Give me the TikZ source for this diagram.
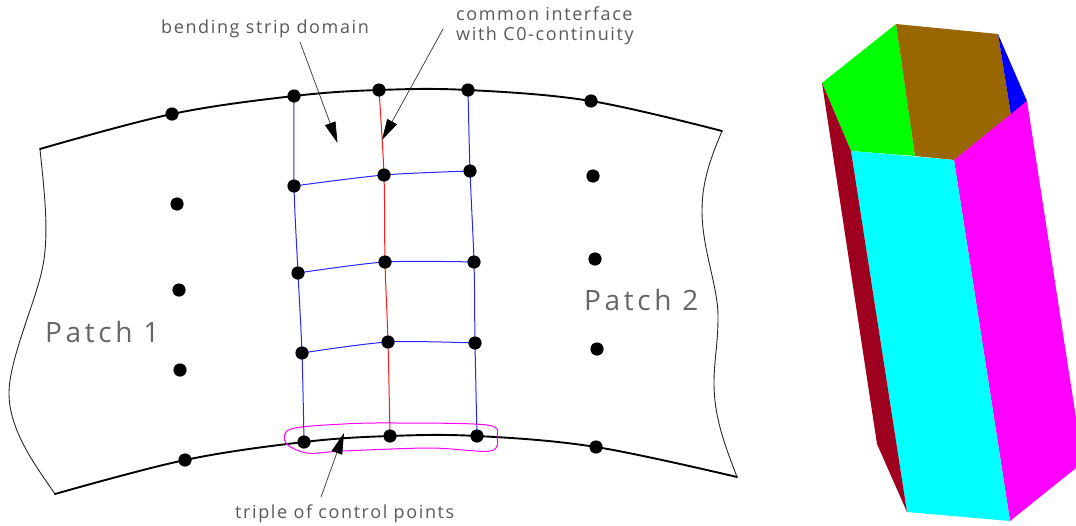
\documentclass[tikz,border=0pt]{standalone}
\usepackage{fontspec}
\setmainfont[LetterSpace=9]{Open Sans}
\usetikzlibrary{arrows.meta}
\definecolor{darkred}{HTML}{A00020}
\definecolor{ochre}{HTML}{996600}
\definecolor{puremagenta}{RGB}{255,0,255}
\definecolor{purecyan}{RGB}{0,255,255}
\definecolor{puregreen}{RGB}{0,255,0}
\definecolor{pureblue}{RGB}{0,0,255}
\tikzset{
	edgeline/.style={black,line width=1.9pt},
	sideline/.style={black!85,line width=0.9pt},
	stripline/.style={pureblue!85!white,line width=1pt},
	midline/.style={red!90!white,line width=1pt},
	callout/.style={black!80,line width=0.7pt,-{Triangle[length=21pt,width=11pt,black]}},
	smalltext/.style={black!65,font=\fontsize{18}{20}\selectfont,inner sep=0pt,anchor=base west},
	bigtext/.style={black!60,font=\fontsize{28}{30}\selectfont\addfontfeature{LetterSpace=13},inner sep=0pt,anchor=base west}
}
\begin{document}
\begin{tikzpicture}[x=1pt,y=-1pt,line join=round,line cap=round]
	\useasboundingbox (0,0) rectangle (1076,525);
	\path
	(40,149) coordinate (TL)
	(722,131) coordinate (TR)
	(55,494) coordinate (BL)
	(737,477) coordinate (BR)
	(172,114) coordinate (A1)
	(294,96) coordinate (A2)
	(379,90) coordinate (A3)
	(468,90) coordinate (A4)
	(591,101) coordinate (A5)
	(177,204) coordinate (B1)
	(294,186) coordinate (B2)
	(384,175) coordinate (B3)
	(470,171) coordinate (B4)
	(593,176) coordinate (B5)
	(179,290) coordinate (C1)
	(298,273) coordinate (C2)
	(385,262) coordinate (C3)
	(474,262) coordinate (C4)
	(595,259) coordinate (C5)
	(180,370) coordinate (D1)
	(302,353) coordinate (D2)
	(388,342) coordinate (D3)
	(475,343) coordinate (D4)
	(597,349) coordinate (D5)
	(185,460) coordinate (E1)
	(304,442) coordinate (E2)
	(390,436) coordinate (E3)
	(477,436) coordinate (E4)
	(596,447) coordinate (E5)
	(822,83) coordinate (P1)
	(896,24) coordinate (P2)
	(998,34) coordinate (P3)
	(1027,101) coordinate (P4)
	(1011,115) coordinate (P5)
	(954,160) coordinate (P6)
	(915,156) coordinate (P7)
	(851,151) coordinate (P8)
	(1010,521) coordinate (Q1)
	(907,512) coordinate (Q2)
	(877,444) coordinate (Q3)
	(1076,418) coordinate (Q4)
	(1076,468) coordinate (Q5)
	(300,42) coordinate (bendingstart)
	(337.5,143) coordinate (bendingtip)
	(443,29) coordinate (commonstart)
	(382,140) coordinate (commontip)
	(321,497) coordinate (triplestart)
	(344,433) coordinate (tripletip)
	;
	\fill[puregreen] (P1)--(P2)--(P7)--(P8)--cycle;
	\fill[ochre] (P2)--(P3)--(P5)--(P6)--(P7)--cycle;
	\fill[pureblue] (P3)--(P4)--(P5)--cycle;
	\fill[puremagenta] (P4)--(Q4)--(Q5)--(Q1)--(P6)--cycle;
	\fill[purecyan] (P8)--(P6)--(Q1)--(Q2)--cycle;
	\fill[darkred] (P1)--(P8)--(Q2)--(Q3)--cycle;
	\draw[sideline] (TL) .. controls (44,190) and (50,235) .. (42,270) .. controls (36,300) and (9,360) .. (9,393) .. controls (9,430) and (35,465) .. (BL);
	\draw[sideline] (TR) .. controls (712,155) and (702,180) .. (702,210) .. controls (702,250) and (718,285) .. (718,317) .. controls (718,345) and (714,360) .. (714,383) .. controls (714,420) and (727,450) .. (BR);
	\draw[edgeline] plot[smooth,tension=0.6] coordinates {(TL) (A1) (A2) (A3) (A4) (A5) (TR)};
	\draw[edgeline] plot[smooth,tension=0.6] coordinates {(BL) (E1) (E2) (E3) (E4) (E5) (BR)};
	\draw[stripline] plot[smooth] coordinates {(A2) (B2) (C2) (D2) (E2)};
	\draw[stripline] plot[smooth] coordinates {(A4) (B4) (C4) (D4) (E4)};
	\draw[midline] plot[smooth] coordinates {(A3) (B3) (C3) (D3) (E3)};
	\draw[stripline] plot[smooth] coordinates {(B2) (B3) (B4)};
	\draw[stripline] plot[smooth] coordinates {(C2) (C3) (C4)};
	\draw[stripline] plot[smooth] coordinates {(D2) (D3) (D4)};
	\draw[puremagenta,line width=1pt] plot[smooth cycle,tension=0.55] coordinates {(291,429) (343,424) (397,423) (487,425) (497,437) (490,451) (430,448) (343,451) (307,453) (286,443)};
	\foreach \x in {A1,A2,A3,A4,A5,B1,B2,B3,B4,B5,C1,C2,C3,C4,C5,D1,D2,D3,D4,D5,E1,E2,E3,E4,E5}
	\fill (\x) circle(6.6pt);
	\node[smalltext] (bending) at (161,33) {bending strip domain};
	\node[smalltext] (common) at (456,20) {common interface};
	\node[smalltext] (with) at (456,40) {with C0-continuity};
	\node[smalltext] (triple) at (235,518) {triple of control points};
	\node[bigtext] (patcha) at (45,342) {Patch 1};
	\node[bigtext] (patchb) at (584,310) {Patch 2};
	\draw[callout] (bendingstart) -- (bendingtip);
	\draw[callout] (commonstart) -- (commontip);
	\draw[callout] (triplestart) -- (tripletip);
\end{tikzpicture}
\end{document}
